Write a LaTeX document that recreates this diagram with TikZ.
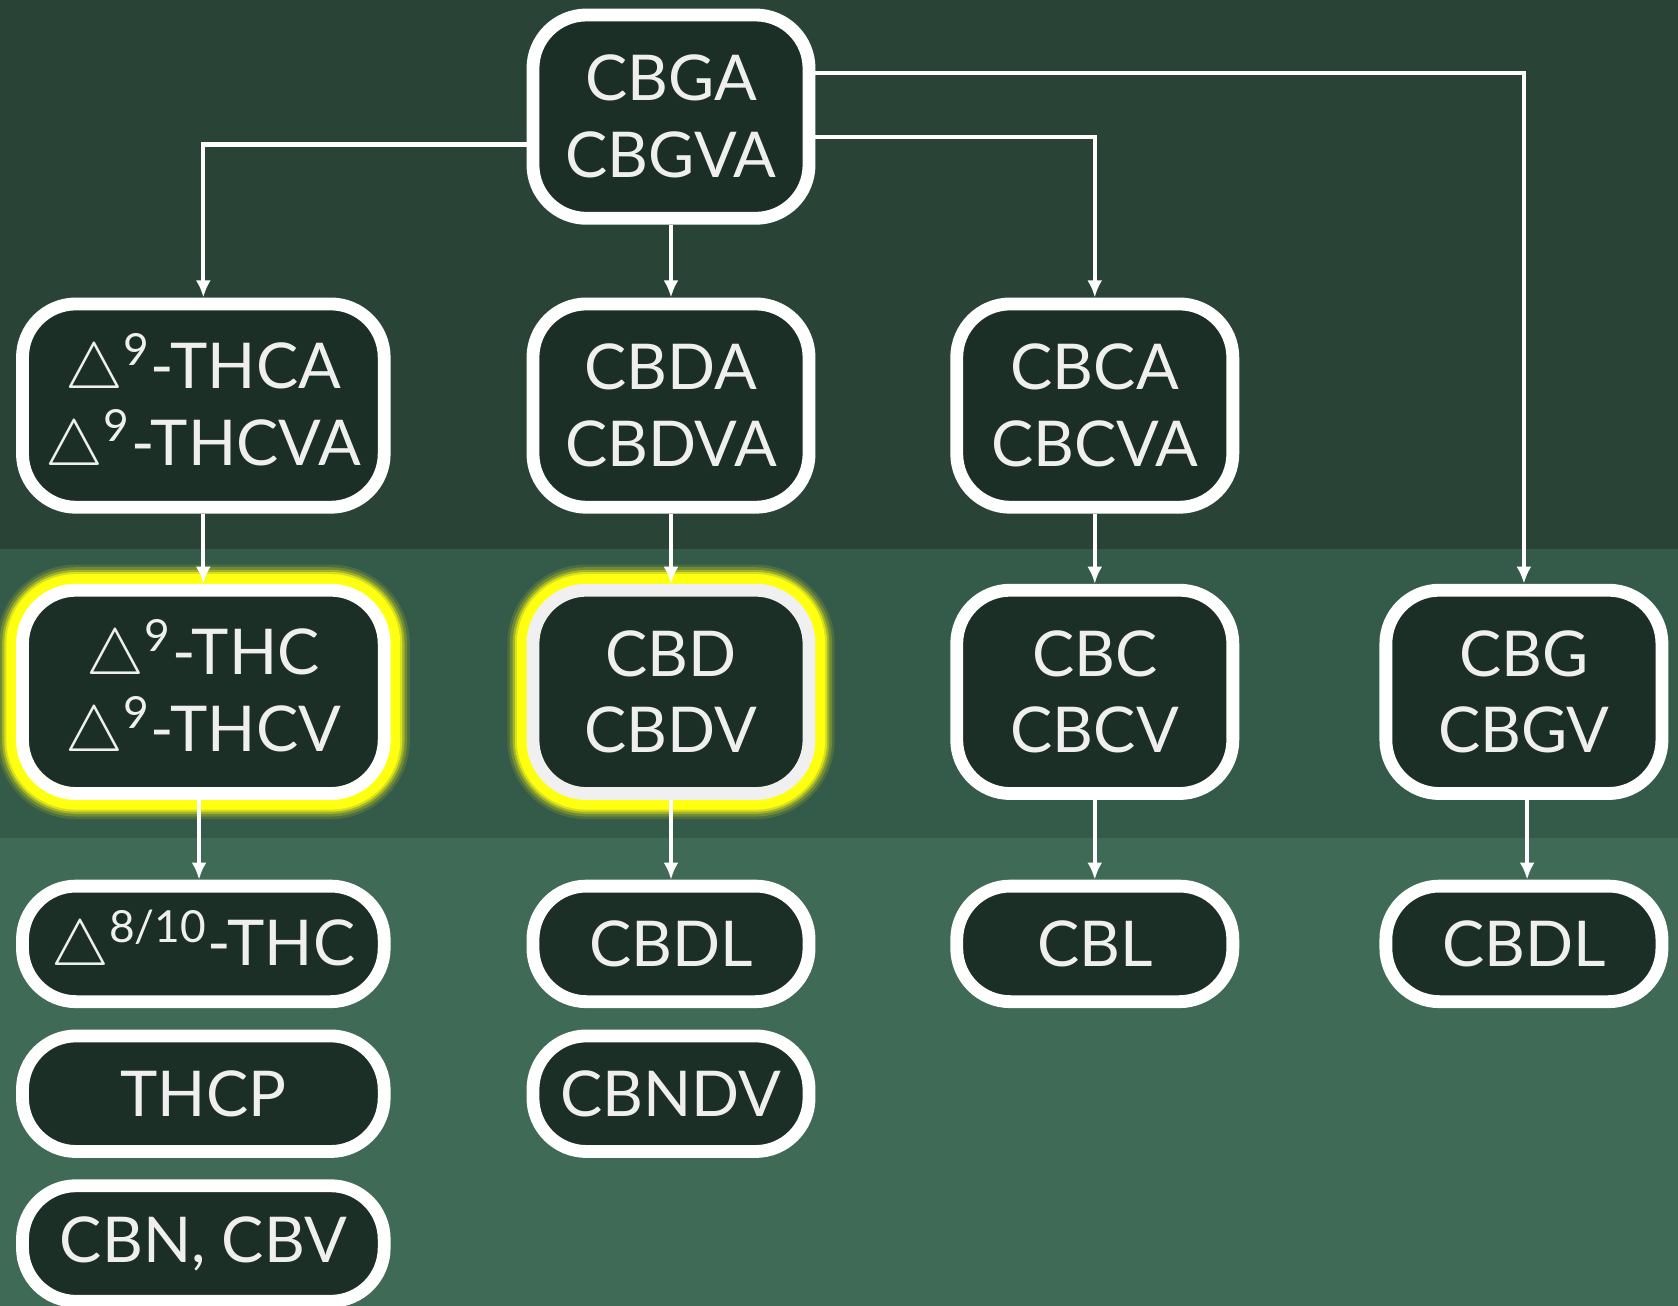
\documentclass[tikz,border=0pt]{standalone}
\usepackage{fontspec}
\setmainfont{Lato}
\usepackage{tikz}
\usetikzlibrary{arrows.meta}
\usetikzlibrary{positioning}

\definecolor{bandtop}{HTML}{294336}
\definecolor{bandmid}{HTML}{345A49}
\definecolor{bandlow}{HTML}{3E6A56}
\definecolor{boxfill}{HTML}{1C2F26}
\definecolor{txt}{HTML}{EFEFEF}
\definecolor{glow}{HTML}{FFFF10}

\newcommand{\dlt}{$\triangle$}

\begin{document}
\begin{tikzpicture}[node distance=1.40cm,
  mol/.style={draw=white,line width=0.12cm,fill=boxfill,rounded corners=0.5cm,text=txt,align=center,inner sep=0pt,minimum width=2.58cm,minimum height=1.90cm,font=\fontsize{16.8}{20.4}\selectfont},
  wide/.style={minimum width=3.38cm},
  flat/.style={minimum height=1.08cm},
  glowing/.style={preaction={draw=glow,line width=0.48cm,draw opacity=0.12},preaction={draw=glow,line width=0.43cm,draw opacity=0.2},preaction={draw=glow,line width=0.38cm,draw opacity=0.35},preaction={draw=glow,line width=0.34cm,draw opacity=0.6},preaction={draw=glow,line width=0.30cm}},
  arr/.style={draw=white,line width=0.04cm,-{Latex[length=0.16cm,width=0.14cm]}}]
  \useasboundingbox (0,0) rectangle (15.68,12.2);
  \fill[bandtop] (0,12.2) rectangle (15.68,7.07);
  \fill[bandmid] (0,7.07) rectangle (15.68,4.37);
  \fill[bandlow] (0,4.37) rectangle (15.68,0);

  \node[mol] (cbga) at (6.27,11.11) {CBGA\\CBGVA};

  \node[mol,wide] (thca) at (1.90,8.41) {\dlt\textsuperscript{9}-THCA\\\dlt\textsuperscript{9}-THCVA};
  \node[mol] (cbda) at (6.27,8.41) {CBDA\\CBDVA};
  \node[mol] (cbca) at (10.23,8.41) {CBCA\\CBCVA};

  \node[mol,wide,glowing] (thc) at (1.90,5.735) {\dlt\textsuperscript{9}-THC\\\dlt\textsuperscript{9}-THCV};
  \node[mol,glowing,draw=white!94!black] (cbd) at (6.27,5.735) {CBD\\CBDV};
  \node[mol] (cbc) at (10.23,5.735) {CBC\\CBCV};
  \node[mol] (cbg) at (14.24,5.735) {CBG\\CBGV};

  \node[mol,wide,flat] (d810) at (1.90,3.38) {\dlt\textsuperscript{8/10}-THC};
  \node[mol,flat] (cbdl) at (6.27,3.38) {CBDL};
  \node[mol,flat] (cbl) at (10.23,3.38) {CBL};
  \node[mol,flat] (cbdl2) at (14.24,3.38) {CBDL};

  \node[mol,wide,flat,below of=d810] (thcp) {THCP};
  \node[mol,wide,flat,below of=thcp] (cbn) {CBN, CBV};
  \node[mol,flat,below of=cbdl] (cbndv) {CBNDV};

  \draw[arr] (cbga.south) -- (cbda.north);
  \draw[arr] ([yshift=-0.26cm]cbga.west) -| (thca.north);
  \draw[arr] ([yshift=-0.19cm]cbga.east) -| (cbca.north);
  \draw[arr] ([yshift=0.41cm]cbga.east) -| (cbg.north);
  \draw[arr] (thca) -- (thc);
  \draw[arr] (cbda) -- (cbd);
  \draw[arr] (cbca) -- (cbc);
  \draw[arr] ([xshift=-0.04cm]thc.south) -- ([xshift=-0.04cm]d810.north);
  \draw[arr] (cbd) -- (cbdl);
  \draw[arr] (cbc) -- (cbl);
  \draw[arr] ([xshift=0.03cm]cbg.south) -- ([xshift=0.03cm]cbdl2.north);
\end{tikzpicture}
\end{document}
